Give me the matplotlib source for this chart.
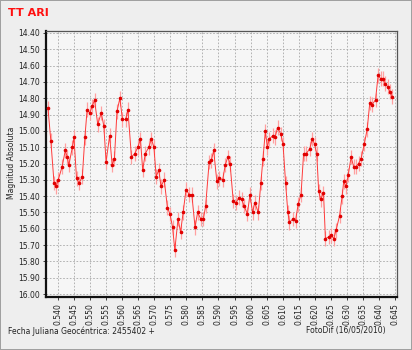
import matplotlib
matplotlib.use('Agg')
import matplotlib.pyplot as plt
import numpy as np

# Heliocentric phase (JD - 2455402) and magnitude of TT Ari
jd = [
    0.5369, 0.5378, 0.5388, 0.5395, 0.5401, 0.5413, 0.5423, 0.5429, 0.5434,
    0.5445, 0.5450, 0.5458, 0.5466, 0.5476, 0.5484, 0.5491, 0.5499, 0.5507,
    0.5514, 0.5524, 0.5535, 0.5543, 0.5550, 0.5561, 0.5569, 0.5576, 0.5584,
    0.5593, 0.5601, 0.5611, 0.5618, 0.5629, 0.5639, 0.5649, 0.5657, 0.5664,
    0.5672, 0.5683, 0.5691, 0.5699, 0.5706, 0.5714, 0.5721, 0.5731, 0.5741,
    0.5749, 0.5757, 0.5764, 0.5774, 0.5782, 0.5790, 0.5799, 0.5809, 0.5817,
    0.5827, 0.5835, 0.5845, 0.5853, 0.5860, 0.5871, 0.5878, 0.5885, 0.5895,
    0.5903, 0.5913, 0.5921, 0.5929, 0.5936, 0.5946, 0.5955, 0.5963, 0.5972,
    0.5980, 0.5990, 0.5998, 0.6006, 0.6013, 0.6024, 0.6032, 0.6039, 0.6046,
    0.6052, 0.6058, 0.6069, 0.6076, 0.6084, 0.6094, 0.6101, 0.6109, 0.6116,
    0.6121, 0.6132, 0.6140, 0.6148, 0.6157, 0.6165, 0.6173, 0.6184, 0.6192,
    0.6199, 0.6206, 0.6212, 0.6218, 0.6227, 0.6233, 0.6243, 0.6251, 0.6259,
    0.6266, 0.6277, 0.6285, 0.6290, 0.6297, 0.6304, 0.6313, 0.6321, 0.6328,
    0.6336, 0.6344, 0.6354, 0.6363, 0.6371, 0.6378, 0.6389, 0.6397, 0.6405,
    0.6412, 0.6419, 0.6427, 0.6434, 0.6441,
]
mag = [
    14.86, 15.06, 15.32, 15.34, 15.30, 15.22, 15.12, 15.16, 15.21,
    15.10, 15.04, 15.29, 15.32, 15.28, 15.04, 14.87, 14.89, 14.85,
    14.81, 14.96, 14.89, 14.97, 15.19, 15.03, 15.21, 15.17, 14.88,
    14.80, 14.93, 14.93, 14.87, 15.16, 15.14, 15.10, 15.05, 15.24,
    15.14, 15.10, 15.05, 15.10, 15.28, 15.24, 15.34, 15.30, 15.47,
    15.51, 15.59, 15.73, 15.54, 15.62, 15.50, 15.36, 15.39, 15.39,
    15.59, 15.50, 15.54, 15.54, 15.46, 15.19, 15.18, 15.12, 15.31,
    15.29, 15.30, 15.21, 15.16, 15.20, 15.43, 15.44, 15.41, 15.42,
    15.46, 15.51, 15.39, 15.50, 15.44, 15.50, 15.32, 15.17, 15.00,
    15.10, 15.05, 15.03, 15.04, 14.98, 15.02, 15.08, 15.32, 15.50,
    15.56, 15.54, 15.55, 15.45, 15.39, 15.14, 15.14, 15.11, 15.05,
    15.08, 15.14, 15.37, 15.42, 15.38, 15.66, 15.65, 15.64, 15.66,
    15.61, 15.52, 15.40, 15.31, 15.34, 15.27, 15.16, 15.22, 15.22,
    15.20, 15.17, 15.08, 14.99, 14.83, 14.84, 14.81, 14.66, 14.68,
    14.68, 14.71, 14.73, 14.76, 14.79,
]
err = 0.045

x_ticks = np.round(np.arange(0.540, 0.6451, 0.005), 3)
y_ticks = np.round(np.arange(14.40, 16.001, 0.10), 2)

fig = plt.figure(figsize=(4.12, 3.5), dpi=100)
fig.patch.set_facecolor('#eeeeee')
fig.patch.set_edgecolor('#a0a0a0')
fig.patch.set_linewidth(1.2)

ax = fig.add_axes([0.1117, 0.1514, 0.852, 0.760])
ax.set_facecolor('#f6f6f6')

ax.errorbar(jd, mag, yerr=err, fmt='-', color='#ff3a3a', lw=0.7,
            ecolor='#ffa0a0', elinewidth=0.9, capsize=0,
            marker='o', ms=1.6, mfc='#e00000', mec='#e00000', zorder=3)

ax.set_xlim(0.5363, 0.6456)
ax.set_ylim(16.018, 14.388)
ax.set_xticks(x_ticks)
ax.set_xticklabels([f'{v:.3f}' for v in x_ticks], rotation=90)
ax.set_yticks(y_ticks)
ax.set_yticklabels([f'{v:.2f}' for v in y_ticks])
ax.tick_params(labelsize=5.5, length=2.5, width=0.6, colors='#222222',
               pad=2)
ax.grid(True, color='#a8a8a8', linestyle=(0, (2, 2)), linewidth=0.6)
ax.set_axisbelow(True)

for side in ('left', 'bottom'):
    ax.spines[side].set_color('#111111')
    ax.spines[side].set_linewidth(1.6)
for side in ('top', 'right'):
    ax.spines[side].set_color('#555555')
    ax.spines[side].set_linewidth(0.9)

fig.text(8 / 412, 1 - 13 / 350, 'TT ARI', color='#ff1010', fontsize=8,
         fontweight='bold', ha='left', va='center')
fig.text(12 / 412, 1 - 163 / 350, 'Magnitud Absoluta', rotation=90,
         fontsize=5.5, ha='center', va='center', color='#222222')
fig.text(8 / 412, 1 - 331 / 350, 'Fecha Juliana Geocéntrica: 2455402 +',
         fontsize=5.5, ha='left', va='center', color='#222222')
fig.text(386 / 412, 1 - 331 / 350, 'FotoDif (16/05/2010)',
         fontsize=5.5, ha='right', va='center', color='#222222')

fig.savefig('out.png', dpi=100, facecolor=fig.get_facecolor(),
            edgecolor=fig.get_edgecolor())
